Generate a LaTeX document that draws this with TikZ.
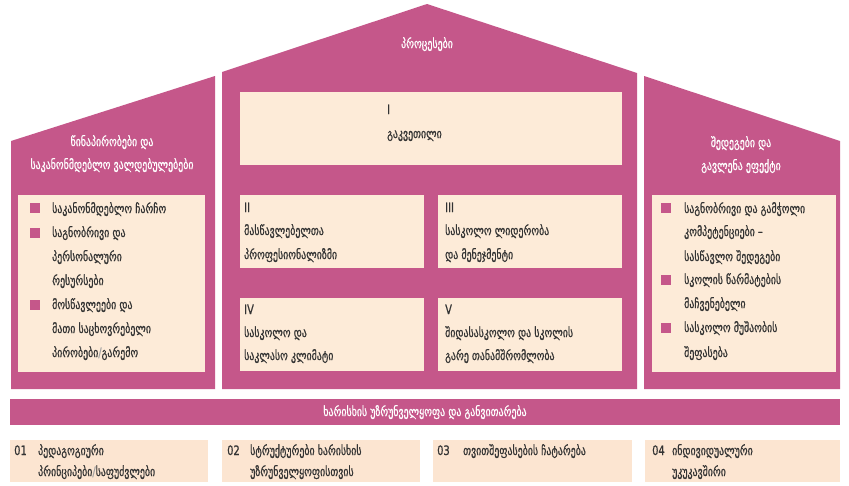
\documentclass[tikz,border=0pt]{standalone}
\usepackage{fontspec}
\setmainfont{DejaVu Sans}[FakeStretch=0.76, FakeBold=0.7]
\definecolor{housepink}{HTML}{C5578A}
\definecolor{paneltint}{HTML}{FDEBD8}
\definecolor{basetint}{HTML}{FCE5D1}
\definecolor{inkgray}{HTML}{333333}
\tikzset{
  housepart/.style={fill=housepink},
  panel/.style={fill=paneltint, anchor=north west, inner sep=0pt},
  basepanel/.style={fill=basetint, anchor=north west, inner sep=0pt},
  itemtext/.style={anchor=base west, inner sep=0pt, yshift=-4pt, text=inkgray,
    font=\fontsize{13}{15}\selectfont},
  headtext/.style={anchor=base, inner sep=0pt, yshift=-4pt, text=white,
    font=\fontsize{13}{15}\selectfont},
  bulletsq/.style={fill=housepink, minimum size=10pt, inner sep=0pt},
}

\begin{document}
\begin{tikzpicture}[x=1pt, y=-1pt]
    \useasboundingbox (0,0) rectangle (849,485);
    % three houses
    \fill[housepart] (11,141) -- (215,76) -- (215,389) -- (11,389) -- cycle;
    \fill[housepart] (222,72) -- (427,4) -- (637,73) -- (637,389) -- (222,389) -- cycle;
    \fill[housepart] (644,76) -- (840,141) -- (840,389) -- (644,389) -- cycle;
    \node[headtext] (roof) at (427,44) {პროცესები};
    \node[headtext] (lefthead) at (112,142) {წინაპირობები და};
    \node[headtext] (lefthead2) at (112,165) {საკანონმდებლო ვალდებულებები};
    \node[headtext] (righthead) at (741,143) {შედეგები და};
    \node[headtext] (righthead2) at (741,166) {გავლენა ეფექტი};

    % panels
    \node[panel, minimum width=187pt, minimum height=177pt] (leftpanel) at (18,195) {};
    \node[panel, minimum width=184pt, minimum height=177pt] (rightpanel) at (652,195) {};
    \node[panel, minimum width=382pt, minimum height=73pt] (lesson) at (240,92) {};
    \node[panel, minimum width=184pt, minimum height=73pt] (teachers) at (240,195) {};
    \node[panel, minimum width=184pt, minimum height=73pt] (leaders) at (438,195) {};
    \node[panel, minimum width=184pt, minimum height=73pt] (climate) at (240,298) {};
    \node[panel, minimum width=184pt, minimum height=73pt] (partners) at (438,298) {};

    % left list
    \foreach \y in {208,233,305}
      \node[bulletsq] (lsq\y) at (35,\y) {};
    \foreach \y/\txt in {209/საკანონმდებლო ჩარჩო, 233/საგნობრივი და, 257/პერსონალური,
        281/რესურსები, 305/მოსწავლეები და, 329/მათი საცხოვრებელი,
        353/{პირობები{\color{inkgray!45}/}გარემო}}
      \node[itemtext] (lt\y) at (52,\y) {\txt};

    % right list
    \foreach \y in {208,280,328}
      \node[bulletsq] (rsq\y) at (666,\y) {};
    \foreach \y/\txt in {209/საგნობრივი და გამჭოლი, 232/კომპეტენციები –, 257/სასწავლო შედეგები,
        280/სკოლის წარმატების, 304/მაჩვენებელი, 328/სასკოლო მუშაობის, 353/შეფასება}
      \node[itemtext] (rt\y) at (684,\y) {\txt};

    % process panels
    \node[itemtext] (n1) at (387,110) {I};
    \node[itemtext] (n1t) at (387,134) {გაკვეთილი};
    \node[itemtext] (n2) at (244,208) {II};
    \node[itemtext] (n2t) at (244,231) {მასწავლებელთა};
    \node[itemtext] (n2u) at (244,255) {პროფესიონალიზმი};
    \node[itemtext] (n3) at (445,208) {III};
    \node[itemtext] (n3t) at (445,231) {სასკოლო ლიდერობა};
    \node[itemtext] (n3u) at (445,255) {და მენეჯმენტი};
    \node[itemtext] (n4) at (244,310) {IV};
    \node[itemtext] (n4t) at (244,333) {სასკოლო და};
    \node[itemtext] (n4u) at (244,356) {საკლასო კლიმატი};
    \node[itemtext] (n5) at (445,310) {V};
    \node[itemtext] (n5t) at (445,333) {შიდასასკოლო და სკოლის};
    \node[itemtext] (n5u) at (445,356) {გარე თანამშრომლობა};

    % quality bar
    \fill[housepart] (10,399) rectangle (840,425);
    \node[headtext] (bar) at (425,412) {ხარისხის უზრუნველყოფა და განვითარება};

    % base panels
    \node[basepanel, minimum width=198pt, minimum height=42pt] (base1) at (10,440) {};
    \node[basepanel, minimum width=198pt, minimum height=42pt] (base2) at (222,440) {};
    \node[basepanel, minimum width=199pt, minimum height=42pt] (base3) at (433,440) {};
    \node[basepanel, minimum width=195pt, minimum height=42pt] (base4) at (645,440) {};
    \node[itemtext] (b1) at (14,451) {01};
    \node[itemtext] (b1t) at (38,451) {პედაგოგიური};
    \node[itemtext] (b1u) at (38,472) {პრინციპები{\color{inkgray!45}/}საფუძვლები};
    \node[itemtext] (b2) at (227,451) {02};
    \node[itemtext] (b2t) at (250,451) {სტრუქტურები ხარისხის};
    \node[itemtext] (b2u) at (250,472) {უზრუნველყოფისთვის};
    \node[itemtext] (b3) at (437,451) {03};
    \node[itemtext] (b3t) at (463,451) {თვითშეფასების ჩატარება};
    \node[itemtext] (b4) at (652,451) {04};
    \node[itemtext] (b4t) at (672,451) {ინდივიდუალური};
    \node[itemtext] (b4u) at (672,472) {უკუკავშირი};
\end{tikzpicture}
\end{document}
